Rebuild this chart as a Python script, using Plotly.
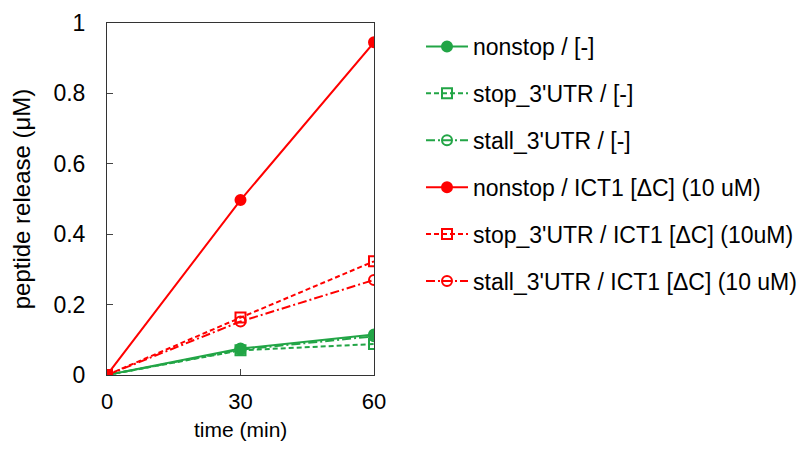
import plotly.graph_objects as go

time_min = [0, 30, 60]
nonstop_none = [0, 0.075, 0.115]
stop_none = [0, 0.07, 0.088]
stall_none = [0, 0.072, 0.11]
nonstop_ict1 = [0, 0.497, 0.945]
stop_ict1 = [0, 0.163, 0.323]
stall_ict1 = [0, 0.152, 0.27]

names = ["nonstop / [-]", "stop_3'UTR / [-]", "stall_3'UTR / [-]",
         "nonstop / ICT1 [ΔC] (10 uM)", "stop_3'UTR / ICT1 [ΔC] (10uM)",
         "stall_3'UTR / ICT1 [ΔC] (10 uM)"]
x_title = "time (min)"
y_title = "peptide release (μM)"

GREEN = "rgb(34,165,70)"
RED = "rgb(255,0,0)"

series = [
    (nonstop_none, GREEN, "solid", "circle"),
    (stop_none, GREEN, "5px,3px", "square-open"),
    (stall_none, GREEN, "9px,3px,2px,3px", "circle-open"),
    (nonstop_ict1, RED, "solid", "circle"),
    (stop_ict1, RED, "5px,3px", "square-open"),
    (stall_ict1, RED, "9px,3px,2px,3px", "circle-open"),
]

W, H = 793, 434

fig = go.Figure()
for i, (vals, col, dash, sym) in enumerate(series):
    fig.add_trace(go.Scatter(
        x=time_min, y=vals, name=names[i], mode="lines+markers",
        legendgroup=f"g{i}",
        line=dict(color=col, width=2, dash=dash),
        marker=dict(color=col, symbol=sym, size=10, line=dict(color=col, width=2)),
    ))

fig.update_layout(
    width=W, height=H,
    margin=dict(l=99, r=W - 366, t=15, b=H - 367),
    plot_bgcolor="white", paper_bgcolor="white",
    font=dict(family="Liberation Sans, Arial, sans-serif", color="black"),
    legend=dict(xref="container", yref="container", x=413 / W, y=1 - 17 / H,
                xanchor="left", yanchor="top", font=dict(size=23),
                itemwidth=42, tracegroupgap=14, maxheight=430,
                bgcolor="rgba(0,0,0,0)"),
    annotations=[dict(text=x_title, xref="paper", yref="paper", x=0.5, y=0,
                      xanchor="center", yanchor="top", yshift=-41,
                      showarrow=False, font=dict(size=21))],
)
fig.update_xaxes(range=[0, 60], tickvals=[0, 30, 60], ticks="inside", ticklen=6,
                 showline=True, linecolor="#333", linewidth=1, mirror=True,
                 showgrid=False, zeroline=False, tickfont=dict(size=22),
                 ticklabelstandoff=7, automargin=False)
fig.update_yaxes(range=[0, 1], tickvals=[0, 0.2, 0.4, 0.6, 0.8, 1],
                 ticktext=["0", "0.2", "0.4", "0.6", "0.8", "1"],
                 ticks="inside", ticklen=6,
                 showline=True, linecolor="#333", linewidth=1, mirror=True,
                 showgrid=False, zeroline=False, tickfont=dict(size=23),
                 ticklabelstandoff=16, automargin=False,
                 title=dict(text=y_title, font=dict(size=24), standoff=16))

fig.write_html("out.html")
